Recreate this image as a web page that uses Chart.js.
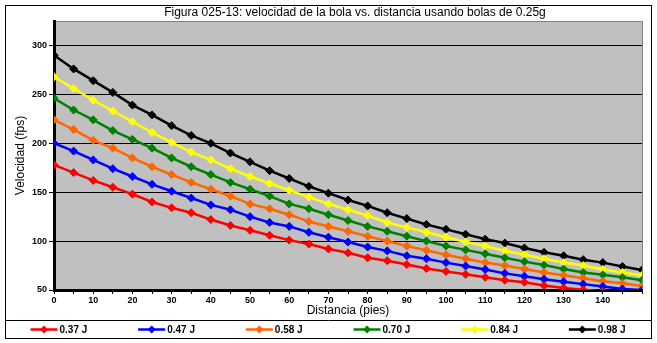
<!DOCTYPE html>
<html>
<head>
<meta charset="utf-8">
<script src="https://cdn.jsdelivr.net/npm/chart.js@4"></script>
<style>
  html, body { margin: 0; padding: 0; background: #fff; }
  #wrap { width: 657px; height: 343px; }
</style>
</head>
<body>
<div id="wrap"><canvas id="chart" width="657" height="343"></canvas></div>
<script>
// Distance (feet) along the x axis
const distancia = [0, 5, 10, 15, 20, 25, 30, 35, 40, 45, 50, 55, 60, 65, 70, 75,
                   80, 85, 90, 95, 100, 105, 110, 115, 120, 125, 130, 135, 140, 145, 150];

// Velocity (fps) per energy level
const v037 = [178, 170, 162, 155, 148, 140, 134, 129, 122, 116, 111, 106, 101, 97, 92, 88,
              83, 80, 76, 72, 69, 66, 63, 60, 58, 54.5, 52, 50.3, 48.5, 46.5, 44.5];
const v047 = [200, 192, 183, 174, 166, 158, 151, 144, 137, 132, 125, 119, 115, 109, 104, 99,
              94, 90, 85, 82, 78, 74.5, 71, 67, 64, 61, 58.5, 56, 53.5, 51, 50];
const v058 = [224, 214, 203, 195, 185, 176, 168, 160, 153, 146, 138, 133, 127, 120, 115, 110,
              105, 100, 95, 90.5, 86, 82, 78, 75, 71.5, 68, 65, 62, 59, 57, 54];
const v070 = [246, 234, 224, 213, 204, 195, 185, 176, 168, 160, 153, 146, 138, 133, 127, 121,
              115, 110, 105, 100, 95, 91, 87, 83, 79, 75.5, 71.5, 68, 65.5, 63, 60];
const v084 = [268, 256, 244, 233, 222, 211, 201, 191, 183, 174, 166, 159, 152, 145, 138, 132,
              126, 119, 114, 109, 104, 99, 95, 90, 86, 82, 78, 75, 71, 68, 65];
const v098 = [290, 276, 264, 252, 239, 229, 218, 208, 200, 190, 181, 172, 164, 156, 149, 142,
              136, 129, 123, 117, 112, 107, 102, 98, 93, 88.5, 85, 81, 78, 74, 70.5];

const seriesNames = ['0.37 J', '0.47 J', '0.58 J', '0.70 J', '0.84 J', '0.98 J'];
const seriesValues = [v037, v047, v058, v070, v084, v098];
const seriesColors = ['#FF0000', '#0000FF', '#FF6600', '#008000', '#FFFF00', '#000000'];

const yTicks = [50, 100, 150, 200, 250, 300];

const titulo = 'Figura 025-13: velocidad de la bola vs. distancia usando bolas de 0.25g';
const font = '"Liberation Sans", Arial, sans-serif';

// Background, plot area and frame + legend drawn around the library's chart area
const framePlugin = {
    id: 'frame',
    beforeDraw(chart) {
        const { ctx, chartArea: a } = chart;
        ctx.save();
        ctx.fillStyle = '#fff';
        ctx.fillRect(0, 0, chart.width, chart.height);
        ctx.fillStyle = '#C0C0C0';
        ctx.fillRect(a.left, a.top, a.right - a.left, a.bottom - a.top);
        ctx.strokeStyle = '#808080';
        ctx.lineWidth = 1;
        ctx.beginPath();
        ctx.moveTo(a.left, a.top + 0.5);
        ctx.lineTo(a.right + 0.5, a.top + 0.5);
        ctx.lineTo(a.right + 0.5, a.bottom);
        ctx.stroke();
        ctx.restore();
    },
    afterDraw(chart) {
        const { ctx, chartArea: a } = chart;
        const left = 5.5, right = 651.5, top = 5.5, bottom = 338.5, legTop = 320.5;
        ctx.save();
        ctx.strokeStyle = '#000';
        ctx.lineWidth = 1;
        ctx.strokeRect(left, top, right - left, bottom - top);
        ctx.beginPath();
        ctx.moveTo(left, legTop);
        ctx.lineTo(right, legTop);
        ctx.stroke();

        // title
        ctx.fillStyle = '#000';
        ctx.font = '12px ' + font;
        ctx.textAlign = 'center';
        ctx.textBaseline = 'middle';
        ctx.fillText(titulo, (a.left + a.right) / 2 + 7, 13);

        // legend
        const colW = (right - left) / seriesNames.length;
        const ly = (legTop + bottom) / 2;
        ctx.font = 'bold 10px ' + font;
        ctx.textAlign = 'left';
        chart.data.datasets.forEach((ds, i) => {
            const x0 = left + 25 + i * colW;
            ctx.strokeStyle = ds.borderColor;
            ctx.lineWidth = 2.5;
            ctx.beginPath();
            ctx.moveTo(x0, ly);
            ctx.lineTo(x0 + 27, ly);
            ctx.stroke();
            ctx.fillStyle = ds.borderColor;
            ctx.beginPath();
            ctx.moveTo(x0 + 13.5, ly - 4);
            ctx.lineTo(x0 + 17.5, ly);
            ctx.lineTo(x0 + 13.5, ly + 4);
            ctx.lineTo(x0 + 9.5, ly);
            ctx.closePath();
            ctx.fill();
            ctx.fillStyle = '#000';
            ctx.fillText(ds.label, x0 + 29, ly + 0.5);
        });
        ctx.restore();
    }
};

const datasets = seriesNames.map((name, i) => ({
    label: name,
    data: distancia.map((d, j) => ({ x: d, y: seriesValues[i][j] })),
    borderColor: seriesColors[i],
    backgroundColor: seriesColors[i],
    borderWidth: 2.5,
    pointStyle: 'rectRot',
    pointRadius: 4,
    pointBorderWidth: 1,
    tension: 0
}));

new Chart(document.getElementById('chart'), {
    type: 'line',
    data: { datasets },
    plugins: [framePlugin],
    options: {
        responsive: false,
        animation: false,
        devicePixelRatio: 1,
        layout: { padding: { left: 0, top: 21, right: 15, bottom: 0 } },
        plugins: {
            legend: { display: false },
            title: { display: false },
            tooltip: { enabled: false }
        },
        scales: {
            x: {
                type: 'linear',
                min: 0,
                max: 150,
                afterFit(s) { s.height = 53; },
                ticks: {
                    stepSize: 5,
                    autoSkip: false,
                    maxRotation: 0,
                    padding: 1,
                    color: '#000',
                    font: { family: font, size: 9, weight: 'bold' },
                    callback: v => (v % 10 === 0 && v < 150) ? v : ''
                },
                grid: { drawOnChartArea: false, drawTicks: true, tickLength: 4, color: '#000' },
                border: { color: '#000', width: 3 },
                title: {
                    display: true,
                    text: 'Distancia (pies)',
                    color: '#000',
                    font: { family: font, size: 12 },
                    padding: { top: 0, bottom: 25 }
                }
            },
            y: {
                min: 50,
                max: 325,
                afterFit(s) { s.width = 54; },
                afterBuildTicks(s) { s.ticks = yTicks.map(v => ({ value: v })); },
                ticks: {
                    padding: 2,
                    color: '#000',
                    font: { family: font, size: 9, weight: 'bold' }
                },
                grid: { color: '#000', lineWidth: 1, tickLength: 5 },
                border: { color: '#000', width: 3 },
                title: {
                    display: true,
                    text: 'Velocidad (fps)',
                    color: '#000',
                    font: { family: font, size: 12 },
                    padding: { top: 13, bottom: 0 }
                }
            }
        }
    }
});
</script>
</body>
</html>
